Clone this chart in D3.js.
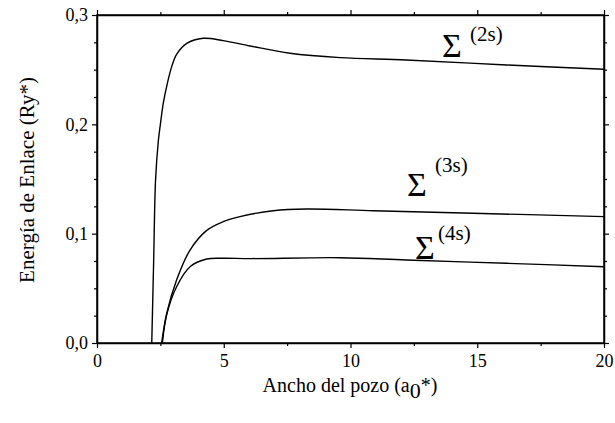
<!DOCTYPE html>
<html><head><meta charset="utf-8">
<script src="https://cdn.jsdelivr.net/npm/d3@7"></script>
<style>body{margin:0;background:#fff}svg{display:block}</style>
</head><body><svg id="c" width="615" height="423"></svg>
<script>
const s2x=[2.16,2.235,2.31,2.42,2.5,2.62,2.78,2.95,3.14,3.54,4.19,4.98,6.04,7.61,9.59,12.2,16.16,20];
const s2y=[0,0.075,0.149,0.185,0.2,0.22,0.238,0.253,0.264,0.274,0.2787,0.2766,0.2717,0.265,0.261,0.2589,0.2543,0.2504];
const s3x=[2.55,2.75,3.14,3.67,4.33,4.98,5.64,6.95,8.27,10.9,14.83,20];
const s3y=[0,0.027,0.0576,0.085,0.103,0.111,0.1156,0.121,0.1226,0.121,0.1187,0.1156];
const s4x=[2.58,2.75,3.14,3.67,4.33,4.98,6.04,9.59,12.2,16.16,20];
const s4y=[0,0.026,0.0515,0.0698,0.0768,0.0775,0.0772,0.078,0.0759,0.0729,0.0698];
const xTicks=[0,5,10,15,20];
const yTicks=[0,0.1,0.2,0.3];
const yTickLabels=["0,0","0,1","0,2","0,3"];

const FF="'Liberation Serif'";
const svg=d3.select("#c");
const L=97,R=604,T=15,B=343;
const x=d3.scaleLinear().domain([0,20]).range([L,R]);
const y=d3.scaleLinear().domain([0,0.3]).range([B,T]);
const xMinor=d3.range(0,20.01,2.5).filter(v=>v%5!==0);
const yMinor=d3.range(0,0.3001,0.025).filter(v=>Math.abs(v*10-Math.round(v*10))>1e-6);

function serif(sel){sel.style("font-family",FF,"important");}
function styleAxis(g){g.attr("font-family",null);g.select(".domain").attr("stroke","#000").attr("stroke-width",1.5);g.selectAll(".tick line").attr("stroke","#000").attr("stroke-width",1.2);}
function lbl(g){g.selectAll("text").attr("font-size",18).attr("fill","#000").call(serif);}
svg.append("g").attr("transform",`translate(0,${B})`).call(d3.axisBottom(x).tickValues(xTicks).tickSize(5).tickSizeOuter(0).tickPadding(6).tickFormat(d3.format("d")))
 .call(styleAxis).call(lbl);
svg.append("g").attr("transform",`translate(0,${B})`).call(d3.axisBottom(x).tickValues(xMinor).tickSize(3).tickSizeOuter(0).tickFormat(""))
 .call(styleAxis).call(g=>g.select(".domain").remove());
svg.append("g").attr("transform",`translate(0,${T})`).call(d3.axisTop(x).tickValues(xTicks).tickSize(5).tickSizeOuter(0).tickFormat(""))
 .call(styleAxis);
svg.append("g").attr("transform",`translate(0,${T})`).call(d3.axisTop(x).tickValues(xMinor).tickSize(3).tickSizeOuter(0).tickFormat(""))
 .call(styleAxis).call(g=>g.select(".domain").remove());
svg.append("g").attr("transform",`translate(${L},0)`).call(d3.axisLeft(y).tickValues(yTicks).tickSize(5).tickSizeOuter(0).tickPadding(4).tickFormat((d,i)=>yTickLabels[i]))
 .call(styleAxis).call(lbl);
svg.append("g").attr("transform",`translate(${L},0)`).call(d3.axisLeft(y).tickValues(yMinor).tickSize(3).tickSizeOuter(0).tickFormat(""))
 .call(styleAxis).call(g=>g.select(".domain").remove());
svg.append("g").attr("transform",`translate(${R},0)`).call(d3.axisRight(y).tickValues(yTicks).tickSize(5).tickSizeOuter(0).tickFormat(""))
 .call(styleAxis);
svg.append("g").attr("transform",`translate(${R},0)`).call(d3.axisRight(y).tickValues(yMinor).tickSize(3).tickSizeOuter(0).tickFormat(""))
 .call(styleAxis).call(g=>g.select(".domain").remove());
svg.append("rect").attr("x",L).attr("y",T).attr("width",R-L).attr("height",B-T).attr("fill","none").attr("stroke","#000").attr("stroke-width",1.5);

const line=d3.line().x(d=>x(d[0])).y(d=>y(d[1])).curve(d3.curveCatmullRom.alpha(0.5));
[[s2x,s2y],[s3x,s3y],[s4x,s4y]].forEach(([xs,ys])=>{
  svg.append("path").datum(xs.map((v,i)=>[v,ys[i]])).attr("d",line).attr("fill","none").attr("stroke","#000").attr("stroke-width",1.4);
});

function txt(xp,yp,size,str){return svg.append("text").attr("x",xp).attr("y",yp).attr("font-size",size).attr("fill","#000").call(serif).text(str);}
function sig(px,py,sup,sx,sy){txt(px,py,34,"\u03A3");txt(sx,sy,21,sup);}
sig(442,57,"(2s)",470,41);
sig(407,196,"(3s)",435,172);
sig(415,259,"(4s)",438,240);

const xl=svg.append("text").attr("x",350).attr("y",392).attr("text-anchor","middle").attr("font-size",20).attr("fill","#000").call(serif);
xl.append("tspan").text("Ancho del pozo (a");
xl.append("tspan").attr("dy",6).attr("font-size",22).text("0");
xl.append("tspan").attr("dy",-6).text("*)");

svg.append("text").attr("transform","translate(34,180) rotate(-90)").attr("text-anchor","middle").attr("font-size",21).attr("fill","#000").call(serif).text("Energía de Enlace (Ry*)");
</script></body></html>
